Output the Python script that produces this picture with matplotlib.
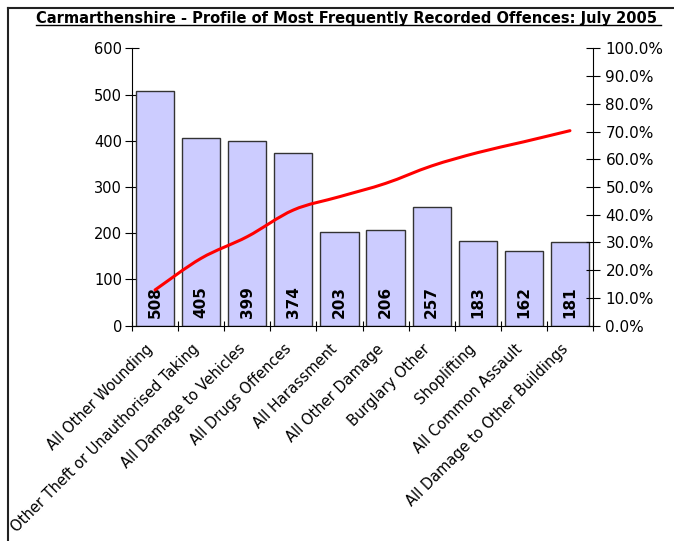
import matplotlib
matplotlib.use("Agg")
import matplotlib.pyplot as plt
import numpy as np
from matplotlib.path import Path
from matplotlib.patches import PathPatch
from matplotlib.lines import Line2D
import matplotlib.transforms as mtransforms

plt.rcParams['font.family'] = ['DejaVu Sans']

title = "Carmarthenshire - Profile of Most Frequently Recorded Offences: July 2005"
categories = ["All Other Wounding", "Other Theft or Unauthorised Taking",
              "All Damage to Vehicles", "All Drugs Offences", "All Harassment",
              "All Other Damage", "Burglary Other", "Shoplifting",
              "All Common Assault", "All Damage to Other Buildings"]
counts = [508, 405, 399, 374, 203, 206, 257, 183, 162, 181]
cum_pct = [12.9, 24.3, 32.1, 41.7, 46.5, 51.3, 57.6, 62.4, 66.3, 70.3]
left_ticks = [0, 100, 200, 300, 400, 500, 600]
right_ticks = [0, 10, 20, 30, 40, 50, 60, 70, 80, 90, 100]

fig = plt.figure(figsize=(6.74, 5.41), dpi=100)
ax = fig.add_axes([132/674, 1-325.7/541, (593-132)/674, (325.7-48.3)/541])
ax2 = ax.twinx()

x = np.arange(len(categories))
ax.bar(x, counts, width=0.83, color='#CCCCFF', edgecolor='#333333', linewidth=1.0, zorder=2)
for xi, v in zip(x, counts):
    ax.annotate(str(v), (xi, 0), xytext=(0, 5.5), textcoords='offset points',
                rotation=90, ha='center', va='bottom', fontsize=11,
                fontweight='bold', color='black', zorder=5)

ax.set_xlim(-0.5, len(categories) - 0.5)
ax.set_ylim(0, 600)
ax.set_yticks(left_ticks)
ax.set_yticklabels([str(t) for t in left_ticks], fontsize=10.5)
ax.set_xticks(np.arange(len(categories) + 1) - 0.5)
ax.set_xticklabels([])
ax.tick_params(axis='x', direction='inout', length=7, width=0.8)
ax.tick_params(axis='y', direction='inout', length=10, width=0.8, pad=2)
for s in ['top', 'right']:
    ax.spines[s].set_visible(False)

ax2.set_ylim(0, 100)
ax2.set_yticks(right_ticks)
ax2.set_yticklabels([f"{t:.1f}%" for t in right_ticks], fontsize=11)
ax2.tick_params(axis='y', direction='inout', length=10, width=0.8, pad=4)
for s in ['top', 'left', 'bottom']:
    ax2.spines[s].set_visible(False)

# smooth line (Catmull-Rom rendered as cubic Bezier through the data points)
px = x.astype(float)
py = np.array(cum_pct, dtype=float)
verts = [(px[0], py[0])]
codes = [Path.MOVETO]
n = len(px)
for i in range(n - 1):
    p0 = (px[max(i-1, 0)], py[max(i-1, 0)])
    p1 = (px[i], py[i])
    p2 = (px[i+1], py[i+1])
    p3 = (px[min(i+2, n-1)], py[min(i+2, n-1)])
    c1 = (p1[0] + (p2[0]-p0[0])/6, p1[1] + (p2[1]-p0[1])/6)
    c2 = (p2[0] - (p3[0]-p1[0])/6, p2[1] - (p3[1]-p1[1])/6)
    verts += [c1, c2, p2]
    codes += [Path.CURVE4]*3
ax2.add_patch(PathPatch(Path(verts, codes), facecolor='none', edgecolor='#FF0000',
                        linewidth=2.2, capstyle='round', zorder=4))

# category labels
trans = mtransforms.blended_transform_factory(ax.transData, ax.transAxes)
for xi, c in zip(x, categories):
    ax.annotate(c, (xi, 0), xycoords=trans, xytext=(-3, -15), textcoords='offset points',
                rotation=45, rotation_mode='anchor', ha='right', va='center',
                fontsize=10.5, annotation_clip=False)

# title with underline
t = fig.text(0.5135, 1-18/541, title, ha='center', va='center', fontsize=10.5, fontweight='bold')
fig.canvas.draw()
bb = t.get_window_extent(renderer=fig.canvas.get_renderer())
inv = fig.transFigure.inverted()
(x0, y0), (x1, y1) = inv.transform([[bb.x0, bb.y0], [bb.x1 + 4, bb.y0]])
fig.add_artist(Line2D([x0, x1], [y0 + 1.0/541, y0 + 1.0/541], color='black', linewidth=1.0))

# figure border (top and left)
fig.add_artist(Line2D([8/674, 1], [1-8/541, 1-8/541], color='#222222', linewidth=1.5))
fig.add_artist(Line2D([8/674, 8/674], [0, 1-8/541], color='#222222', linewidth=1.5))

fig.savefig("out.png", dpi=100)
